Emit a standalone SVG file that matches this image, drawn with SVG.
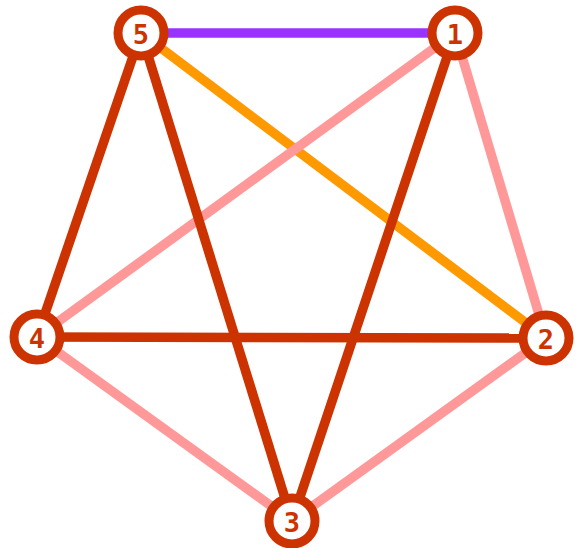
<svg xmlns="http://www.w3.org/2000/svg" width="582" height="548" viewBox="0 0 582 548">
<style>
.e{stroke-width:9.5;fill:none}
.dark{stroke:#cc3300}
.pink{stroke:#ff9999}
.orange{stroke:#ff9900}
.purple{stroke:#9933ff}
.n circle{fill:#fff;stroke:#cc3300;stroke-width:9}
.n text{font-family:"DejaVu Sans Mono",monospace;font-weight:bold;font-size:27px;fill:#cc3300;text-anchor:middle;dominant-baseline:central}
</style>
<rect width="582" height="548" fill="#fff"/>
<g id="edges">
<line class="e purple" x1="141" y1="33" x2="455" y2="33"/>
<line class="e orange" x1="141" y1="33" x2="546" y2="338"/>
<line class="e pink" x1="455" y1="33" x2="37" y2="337"/>
<line class="e pink" x1="455" y1="33" x2="546" y2="338"/>
<line class="e pink" x1="37" y1="337" x2="292" y2="521"/>
<line class="e pink" x1="546" y1="338" x2="292" y2="521"/>
<line class="e dark" x1="141" y1="33" x2="37" y2="337"/>
<line class="e dark" x1="141" y1="33" x2="292" y2="521"/>
<line class="e dark" x1="455" y1="33" x2="292" y2="521"/>
<line class="e dark" x1="37" y1="337" x2="546" y2="338"/>
</g>
<g id="node5" class="n"><circle cx="141" cy="33" r="23"/><text x="141" y="34">5</text></g>
<g id="node1" class="n"><circle cx="455" cy="33" r="23"/><text x="455" y="34">1</text></g>
<g id="node2" class="n"><circle cx="546" cy="338" r="23"/><text x="546" y="339">2</text></g>
<g id="node3" class="n"><circle cx="292" cy="521" r="23"/><text x="292" y="522">3</text></g>
<g id="node4" class="n"><circle cx="37" cy="337" r="23"/><text x="37" y="338">4</text></g>
</svg>
